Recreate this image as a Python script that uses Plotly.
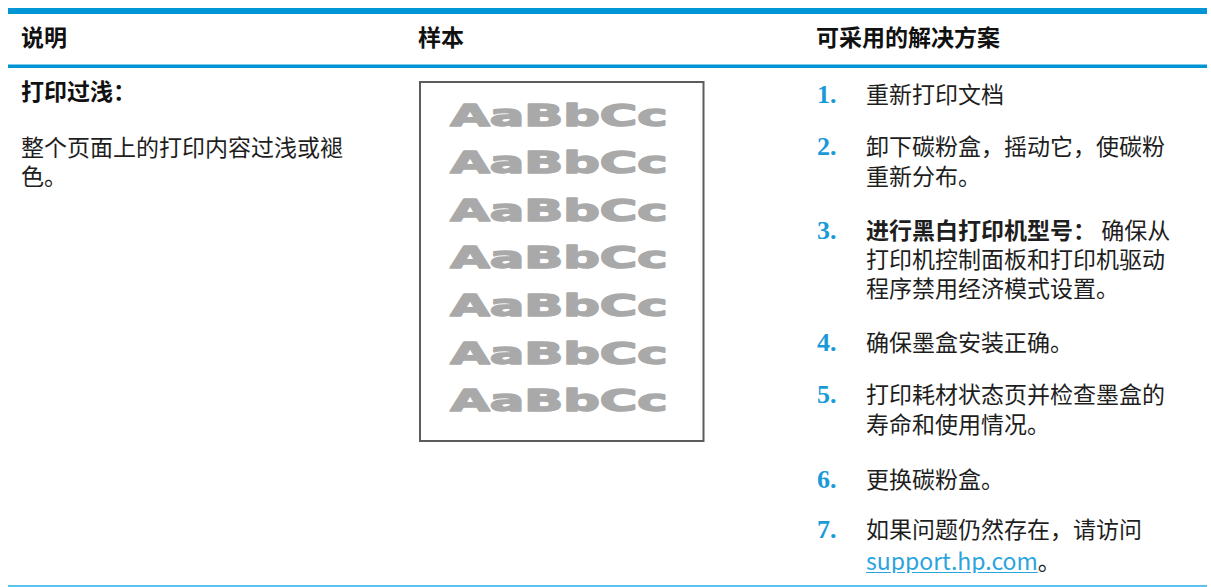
import plotly.graph_objects as go

# ---- content ----
headers = ["说明", "样本", "可采用的解决方案"]
issue_title = "打印过浅："
issue_desc = ["整个页面上的打印内容过浅或褪", "色。"]
sample_word = "AaBbCc"
sample_rows = 7
step_numbers = ["1.", "2.", "3.", "4.", "5.", "6.", "7."]
step_lines = [
    ["重新打印文档"],
    ["卸下碳粉盒，摇动它，使碳粉", "重新分布。"],
    ["<b>进行黑白打印机型号：</b> 确保从", "打印机控制面板和打印机驱动", "程序禁用经济模式设置。"],
    ["确保墨盒安装正确。"],
    ["打印耗材状态页并检查墨盒的", "寿命和使用情况。"],
    ["更换碳粉盒。"],
    ["如果问题仍然存在，请访问",
     "<span style=\"text-decoration:underline;fill:#2aa4de;\">support.hp.com</span>。"],
]

# ---- layout constants (pixel space) ----
W, H = 1211, 587
BLUE = "#0096D6"
NUM_BLUE = "#1B9AD8"
TEXT = "#1e1e1e"
CJK = "Noto Sans CJK SC"

header_x = [19, 416, 814]
header_y = 35.5
step_y = [[93], [145, 175], [229, 258, 287], [341], [393, 423], [478], [528, 560]]
desc_y = [146, 175]
num_x, text_x = 815, 864
sample_y0, sample_dy = 114.5, 47.6
BOX_H = 26

fig = go.Figure()
fig.add_trace(go.Scatter(x=[0, W], y=[0, H], mode="markers",
                         marker=dict(opacity=0), hoverinfo="skip", showlegend=False))

shapes = [
    dict(type="rect", x0=8, x1=1207, y0=8, y1=14, fillcolor=BLUE, line=dict(width=0)),
    dict(type="rect", x0=8, x1=1207, y0=64.5, y1=68, fillcolor=BLUE, line=dict(width=0)),
    dict(type="rect", x0=8, x1=1207, y0=585, y1=587, fillcolor="#5CC3EE", line=dict(width=0)),
    dict(type="rect", x0=420, x1=703.5, y0=82, y1=441, fillcolor="rgba(0,0,0,0)",
         line=dict(color="#5c5c5c", width=2)),
]

ann = []
for hx, ht in zip(header_x, headers):
    ann.append(dict(x=hx, y=header_y, text=f"<b>{ht}</b>", xanchor="left", yanchor="middle",
                    showarrow=False, font=dict(family=CJK, size=23, color="#111")))

ann.append(dict(x=19, y=89.5, text=f"<b>{issue_title}</b>", xanchor="left", yanchor="middle",
                showarrow=False, font=dict(family=CJK, size=23, color="#111")))
for line, ly in zip(issue_desc, desc_y):
    ann.append(dict(x=19, y=ly, text=line, xanchor="left", yanchor="middle", height=BOX_H,
                    valign="middle", showarrow=False, font=dict(family=CJK, size=23, color=TEXT)))

for r in range(sample_rows):
    ann.append(dict(x=559, y=sample_y0 + r * sample_dy, text=sample_word,
                    xanchor="center", yanchor="middle", showarrow=False,
                    font=dict(family="DejaVu Sans", size=31, color="#a9a9a9", weight="bold")))

for num, lines, ys in zip(step_numbers, step_lines, step_y):
    ann.append(dict(x=num_x, y=ys[0] + 1.5, text=f"<b>{num}</b>", xanchor="left", yanchor="middle",
                    showarrow=False, font=dict(family="Liberation Serif", size=26, color=NUM_BLUE)))
    for line, ly in zip(lines, ys):
        ann.append(dict(x=text_x, y=ly, text=line, xanchor="left", yanchor="middle", height=BOX_H,
                        valign="middle", showarrow=False,
                        font=dict(family=CJK, size=23, color=TEXT)))

fig.update_layout(
    width=W, height=H, margin=dict(l=0, r=0, t=0, b=0),
    paper_bgcolor="white", plot_bgcolor="white",
    xaxis=dict(range=[0, W], visible=False, fixedrange=True),
    yaxis=dict(range=[H, 0], visible=False, fixedrange=True),
    shapes=shapes, annotations=ann, showlegend=False,
)

post = """
document.body.style.margin = '0';
document.body.style.overflow = 'hidden';
document.querySelectorAll('text.annotation-text').forEach(function (t) {
  if (t.textContent === 'AaBbCc') {
    t.style.transformBox = 'fill-box';
    t.style.transformOrigin = 'center';
    t.style.transform = 'scaleX(1.65)';
    t.style.stroke = '#a9a9a9';
    t.style.strokeWidth = '1.6px';
    t.style.strokeLinejoin = 'round';
  }
});
"""
fig.write_html("out.html", config={"displayModeBar": False}, post_script=post)
